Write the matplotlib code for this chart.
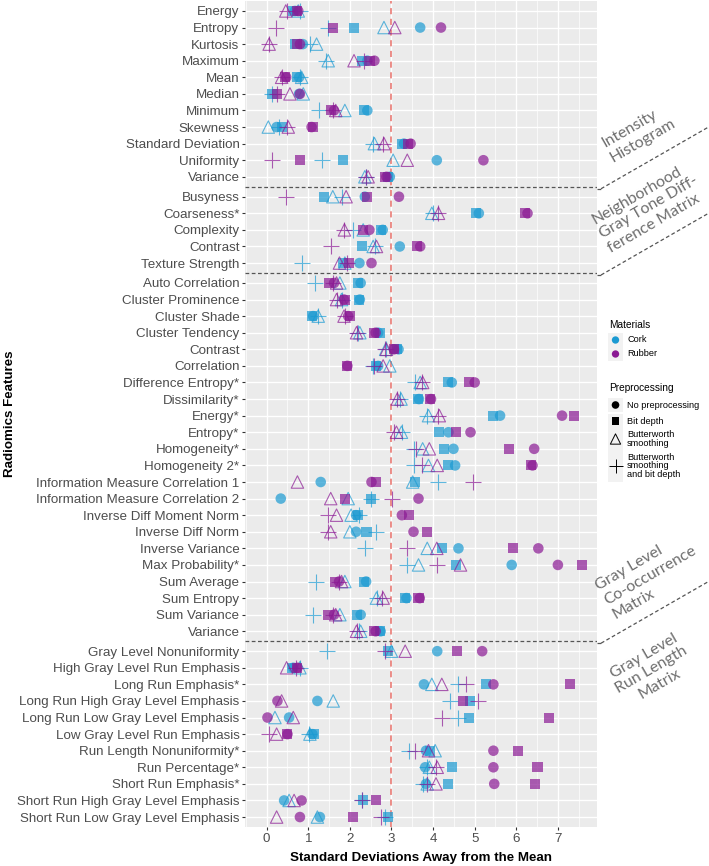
import matplotlib
matplotlib.use("Agg")
import matplotlib.pyplot as plt
from matplotlib.lines import Line2D
import numpy as np

# ---------------- data ----------------
facet_names = ["Intensity\nHistogram",
               "Neighborhood\nGray Tone Diff-\nference Matrix",
               "Gray Level\nCo-occurrence\nMatrix",
               "Gray Level\nRun Length\nMatrix"]

features_ih = ["Energy", "Entropy", "Kurtosis", "Maximum", "Mean", "Median", "Minimum",
               "Skewness", "Standard Deviation", "Uniformity", "Variance"]
features_ngtdm = ["Busyness", "Coarseness*", "Complexity", "Contrast", "Texture Strength"]
features_glcm = ["Auto Correlation", "Cluster Prominence", "Cluster Shade", "Cluster Tendency",
                 "Contrast", "Correlation", "Difference Entropy*", "Dissimilarity*", "Energy*",
                 "Entropy*", "Homogeneity*", "Homogeneity 2*", "Information Measure Correlation 1",
                 "Information Measure Correlation 2", "Inverse Diff Moment Norm",
                 "Inverse Diff Norm", "Inverse Variance", "Max Probability*", "Sum Average",
                 "Sum Entropy", "Sum Variance", "Variance"]
features_glrlm = ["Gray Level Nonuniformity", "High Gray Level Run Emphasis", "Long Run Emphasis*",
                  "Long Run High Gray Level Emphasis", "Long Run Low Gray Level Emphasis",
                  "Low Gray Level Run Emphasis", "Run Length Nonuniformity*", "Run Percentage*",
                  "Short Run Emphasis*", "Short Run High Gray Level Emphasis",
                  "Short Run Low Gray Level Emphasis"]

# Cork values (no preprocessing, bit depth, butterworth, butterworth+bit depth)
cork_none = [0.68, 3.69, 0.87, 2.42, 0.78, 0.78, 2.42, 0.24, 3.30, 4.09, 2.96,
             2.36, 5.10, 2.79, 3.20, 2.23,
             2.26, 2.24, 1.12, 2.68, 3.17, 2.68, 4.45, 3.66, 5.61, 4.37, 4.49, 4.53, 1.30, 0.34,
             2.15, 2.15, 4.61, 5.89, 2.39, 3.36, 2.26, 2.74,
             4.10, 0.64, 3.78, 1.22, 0.54, 1.10, 3.83, 3.81, 3.83, 0.42, 1.28]
cork_bit = [0.64, 2.10, 0.68, 2.30, 0.74, 0.12, 2.34, 0.36, 3.25, 1.83, 2.92,
            1.38, 5.03, 2.76, 2.29, 1.84,
            2.20, 2.22, 1.08, 2.72, 3.13, 2.64, 4.37, 3.64, 5.43, 4.14, 4.27, 4.37, 3.57, 2.52,
            2.20, 2.40, 4.21, 4.55, 2.34, 3.33, 2.16, 2.72,
            2.92, 0.60, 5.27, 4.89, 4.87, 1.14, 3.93, 4.45, 4.37, 2.31, 2.91]
cork_butter = [0.76, 2.82, 1.20, 1.48, 0.84, 0.88, 1.88, 0.04, 2.59, 3.04, 2.36,
               1.59, 3.97, 2.32, 2.56, 1.88,
               1.76, 1.80, 1.24, 2.24, 2.86, 2.96, 3.69, 3.23, 3.89, 3.24, 3.75, 3.89, 3.51, 1.96,
               2.03, 2.00, 3.86, 3.65, 1.88, 2.64, 1.76, 2.26,
               3.00, 0.80, 3.97, 1.60, 0.20, 1.04, 4.05, 3.91, 3.86, 0.54, 1.22]
cork_both = [0.80, 1.48, 1.04, 1.43, 0.80, 0.12, 1.27, 0.30, 2.56, 1.32, 2.38,
             1.80, 3.99, 2.08, 2.60, 0.84,
             1.16, 1.80, 1.24, 2.20, 2.88, 2.55, 3.57, 3.21, 3.86, 3.26, 3.54, 3.53, 4.13, 2.51,
             2.23, 2.63, 2.36, 3.37, 1.19, 2.66, 1.11, 2.22,
             1.44, 0.80, 4.61, 4.41, 4.61, 1.02, 3.41, 3.85, 3.77, 2.28, 2.84]

# Rubber values
rubber_none = [0.76, 4.19, 0.80, 2.59, 0.47, 0.80, 1.62, 1.08, 3.46, 5.21, 2.88,
               3.18, 6.27, 2.47, 3.69, 2.52,
               1.62, 1.86, 1.96, 2.62, 3.06, 1.94, 5.00, 3.95, 7.10, 4.90, 6.43, 6.39, 2.52, 3.65,
               3.25, 3.53, 6.53, 7.00, 1.74, 3.68, 1.62, 2.62,
               5.18, 0.74, 5.45, 0.26, 0.02, 0.50, 5.45, 5.45, 5.47, 0.84, 0.80]
rubber_bit = [0.72, 1.60, 0.74, 2.48, 0.45, 0.26, 1.54, 1.12, 3.40, 0.80, 2.84,
              2.42, 6.21, 2.31, 3.62, 1.99,
              1.51, 1.88, 2.00, 2.59, 3.05, 1.93, 4.87, 3.93, 7.39, 4.54, 5.83, 6.35, 2.63, 1.88,
              3.41, 3.85, 5.93, 7.58, 1.64, 3.65, 1.48, 2.59,
              4.57, 0.72, 7.29, 4.73, 6.79, 0.48, 6.03, 6.51, 6.45, 2.62, 2.07]
rubber_butter = [0.46, 3.08, 0.06, 2.10, 0.36, 0.56, 1.66, 0.52, 2.82, 3.38, 2.44,
                 1.91, 4.13, 1.87, 2.64, 1.75,
                 1.68, 1.68, 1.86, 2.16, 2.88, 2.80, 3.75, 3.14, 4.15, 3.12, 3.91, 4.10, 0.74, 1.54,
                 1.68, 1.54, 4.09, 4.66, 1.80, 2.80, 1.66, 2.16,
                 3.33, 0.48, 4.21, 0.36, 0.64, 0.24, 3.89, 4.10, 4.07, 0.66, 0.24]
rubber_both = [0.48, 0.22, 0.06, 2.35, 0.38, 0.24, 1.60, 0.48, 2.80, 0.14, 2.40,
               0.46, 4.11, 1.86, 1.54, 1.94,
               1.60, 1.70, 1.88, 2.16, 2.84, 2.57, 3.73, 3.14, 4.12, 3.06, 3.60, 3.73, 4.97, 3.02,
               1.48, 1.48, 3.37, 4.10, 1.75, 2.78, 1.59, 2.16,
               2.84, 0.70, 4.79, 5.09, 4.21, 0.06, 3.57, 4.07, 3.86, 2.30, 2.76]

x_ticks = [0, 1, 2, 3, 4, 5, 6, 7]
reference_line = 3

# ---------------- layout helpers ----------------
facets = [features_ih, features_ngtdm, features_glcm, features_glrlm]
ypos, labels, boundaries = [], [], []
offset = 0.0
for feats in facets:
    for j, f in enumerate(feats):
        ypos.append(offset + 0.6 + j)
        labels.append(f)
    offset += len(feats) + 0.2
    boundaries.append(offset)
boundaries = boundaries[:-1]
ypos = np.array(ypos)
total = offset

W, H = 709, 866
fig = plt.figure(figsize=(W / 100, H / 100), dpi=100)
L, R, T, B = 245, 597, 1, 827
ax = fig.add_axes([L / W, 1 - B / H, (R - L) / W, (B - T) / H])
ax.set_facecolor("#EBEBEB")
ax.set_xlim(-0.52, 7.94)
ax.set_ylim(total, 0)

ax.set_xticks(x_ticks)
ax.set_xticks(np.arange(-0.5, 8.0, 1.0), minor=True)
ax.set_yticks(ypos)
ax.set_yticklabels(labels)
ax.grid(True, which="major", color="white", lw=1.0)
ax.grid(True, which="minor", axis="x", color="white", lw=0.5)
ax.set_axisbelow(True)
for s in ax.spines.values():
    s.set_visible(False)
ax.tick_params(axis="both", which="major", length=2.5, color="#333333",
               labelsize=9.6, labelcolor="#4D4D4D", pad=1.5)
ax.tick_params(axis="both", which="minor", length=0)
for lab in ax.get_yticklabels() + ax.get_xticklabels():
    lab.set_fontfamily("Liberation Sans")

ax.set_xlabel("Standard Deviations Away from the Mean", fontsize=9.6, fontweight="bold",
              family="Liberation Sans", labelpad=5)
fig.text(10 / W, 1 - 414 / H, "Radiomics Features", rotation=90, ha="center", va="center",
         fontsize=9.6, fontweight="bold", family="Liberation Sans")

cork_c = "#1B9AD2"
rubber_c = "#8B1A94"
alpha = 0.7

series = [
    (cork_none, cork_c, "o"), (cork_bit, cork_c, "s"),
    (cork_butter, cork_c, "^"), (cork_both, cork_c, "+"),
    (rubber_none, rubber_c, "o"), (rubber_bit, rubber_c, "s"),
    (rubber_butter, rubber_c, "^"), (rubber_both, rubber_c, "+"),
]
for vals, col, mk in series:
    if mk in ("o", "s"):
        ax.scatter(vals, ypos, s=58 if mk == "o" else 52, marker=mk, color=col,
                   alpha=alpha, edgecolors="none", zorder=3)
    elif mk == "^":
        ax.scatter(vals, ypos, s=80, marker=mk, facecolors="none", edgecolors=col,
                   linewidths=0.8, alpha=alpha, zorder=3)
    else:
        ax.scatter(vals, ypos, s=130, marker=mk, color=col, linewidths=0.8,
                   alpha=alpha, zorder=3)

ax.axvline(reference_line, color="#E8706A", ls=(0, (4, 3)), lw=1.1, zorder=2)

# facet boundaries (dashed) and diagonal lines
fig.canvas.draw()
for b in boundaries:
    ax.axhline(b, color="#555555", ls=(0, (3, 2)), lw=0.9, zorder=2)
    _, yb = ax.transData.transform((0, b))
    yb -= 2
    x0 = R / W
    x1 = 601 / W
    y0 = yb / H
    fig.add_artist(Line2D([x0, x1], [y0, y0], transform=fig.transFigure,
                          color="#555555", ls=(0, (3, 2)), lw=0.9))
    fig.add_artist(Line2D([x1, 1.0], [y0, y0 + 62 / H], transform=fig.transFigure,
                          color="#555555", ls=(0, (3, 2)), lw=0.9))

# facet labels: baseline start of last line
label_specs = [((612, 160), "left"), ((610, 251), "left"),
               ((614, 617), "left"), ((626, 706), "center")]
for name, ((px, py), al) in zip(facet_names, label_specs):
    fig.text(px / W, 1 - py / H, name, rotation=30, ha="left", va="baseline",
             rotation_mode="anchor", fontsize=11.5, color="#6E6E6E", family="Lato",
             linespacing=1.2, multialignment=al)

# ---------------- manual legend ----------------
lg = fig.add_axes([0, 0, 1, 1], facecolor="none")
lg.set_xlim(0, W)
lg.set_ylim(H, 0)
lg.axis("off")
lg.text(609, 325, "Materials", fontsize=7.3, va="center", ha="left", family="Liberation Sans")
for yy, c, t in [(340, cork_c, "Cork"), (354, rubber_c, "Rubber")]:
    lg.add_patch(plt.Rectangle((608, yy - 7), 15, 14, color="#F2F2F2", lw=0))
    lg.scatter([615.5], [yy], s=28, color=c, marker="o", edgecolors="none")
    lg.text(627, yy, t, fontsize=6.6, va="center", ha="left", family="Liberation Sans")
lg.text(609, 388, "Preprocessing", fontsize=7.3, va="center", ha="left", family="Liberation Sans")
items = [
    (405, 14, "o", "No preprocessing"),
    (421, 14, "s", "Bit depth"),
    (439, 22, "^", "Butterworth\nsmoothing"),
    (466, 32, "+", "Butterworth\nsmoothing\nand bit depth"),
]
for yy, h, mk, t in items:
    lg.add_patch(plt.Rectangle((608, yy - h / 2), 15, h, color="#F2F2F2", lw=0))
    if mk == "^":
        lg.scatter([615.5], [yy], s=55, marker=mk, facecolors="none", edgecolors="black", linewidths=0.7)
    elif mk == "+":
        lg.scatter([615.5], [yy], s=90, marker=mk, color="black", linewidths=0.7)
    else:
        lg.scatter([615.5], [yy], s=30, marker=mk, color="black", edgecolors="none")
    lg.text(627, yy, t, fontsize=6.6, va="center", ha="left", family="Liberation Sans",
            linespacing=0.95)

fig.savefig("out.png", dpi=100)
